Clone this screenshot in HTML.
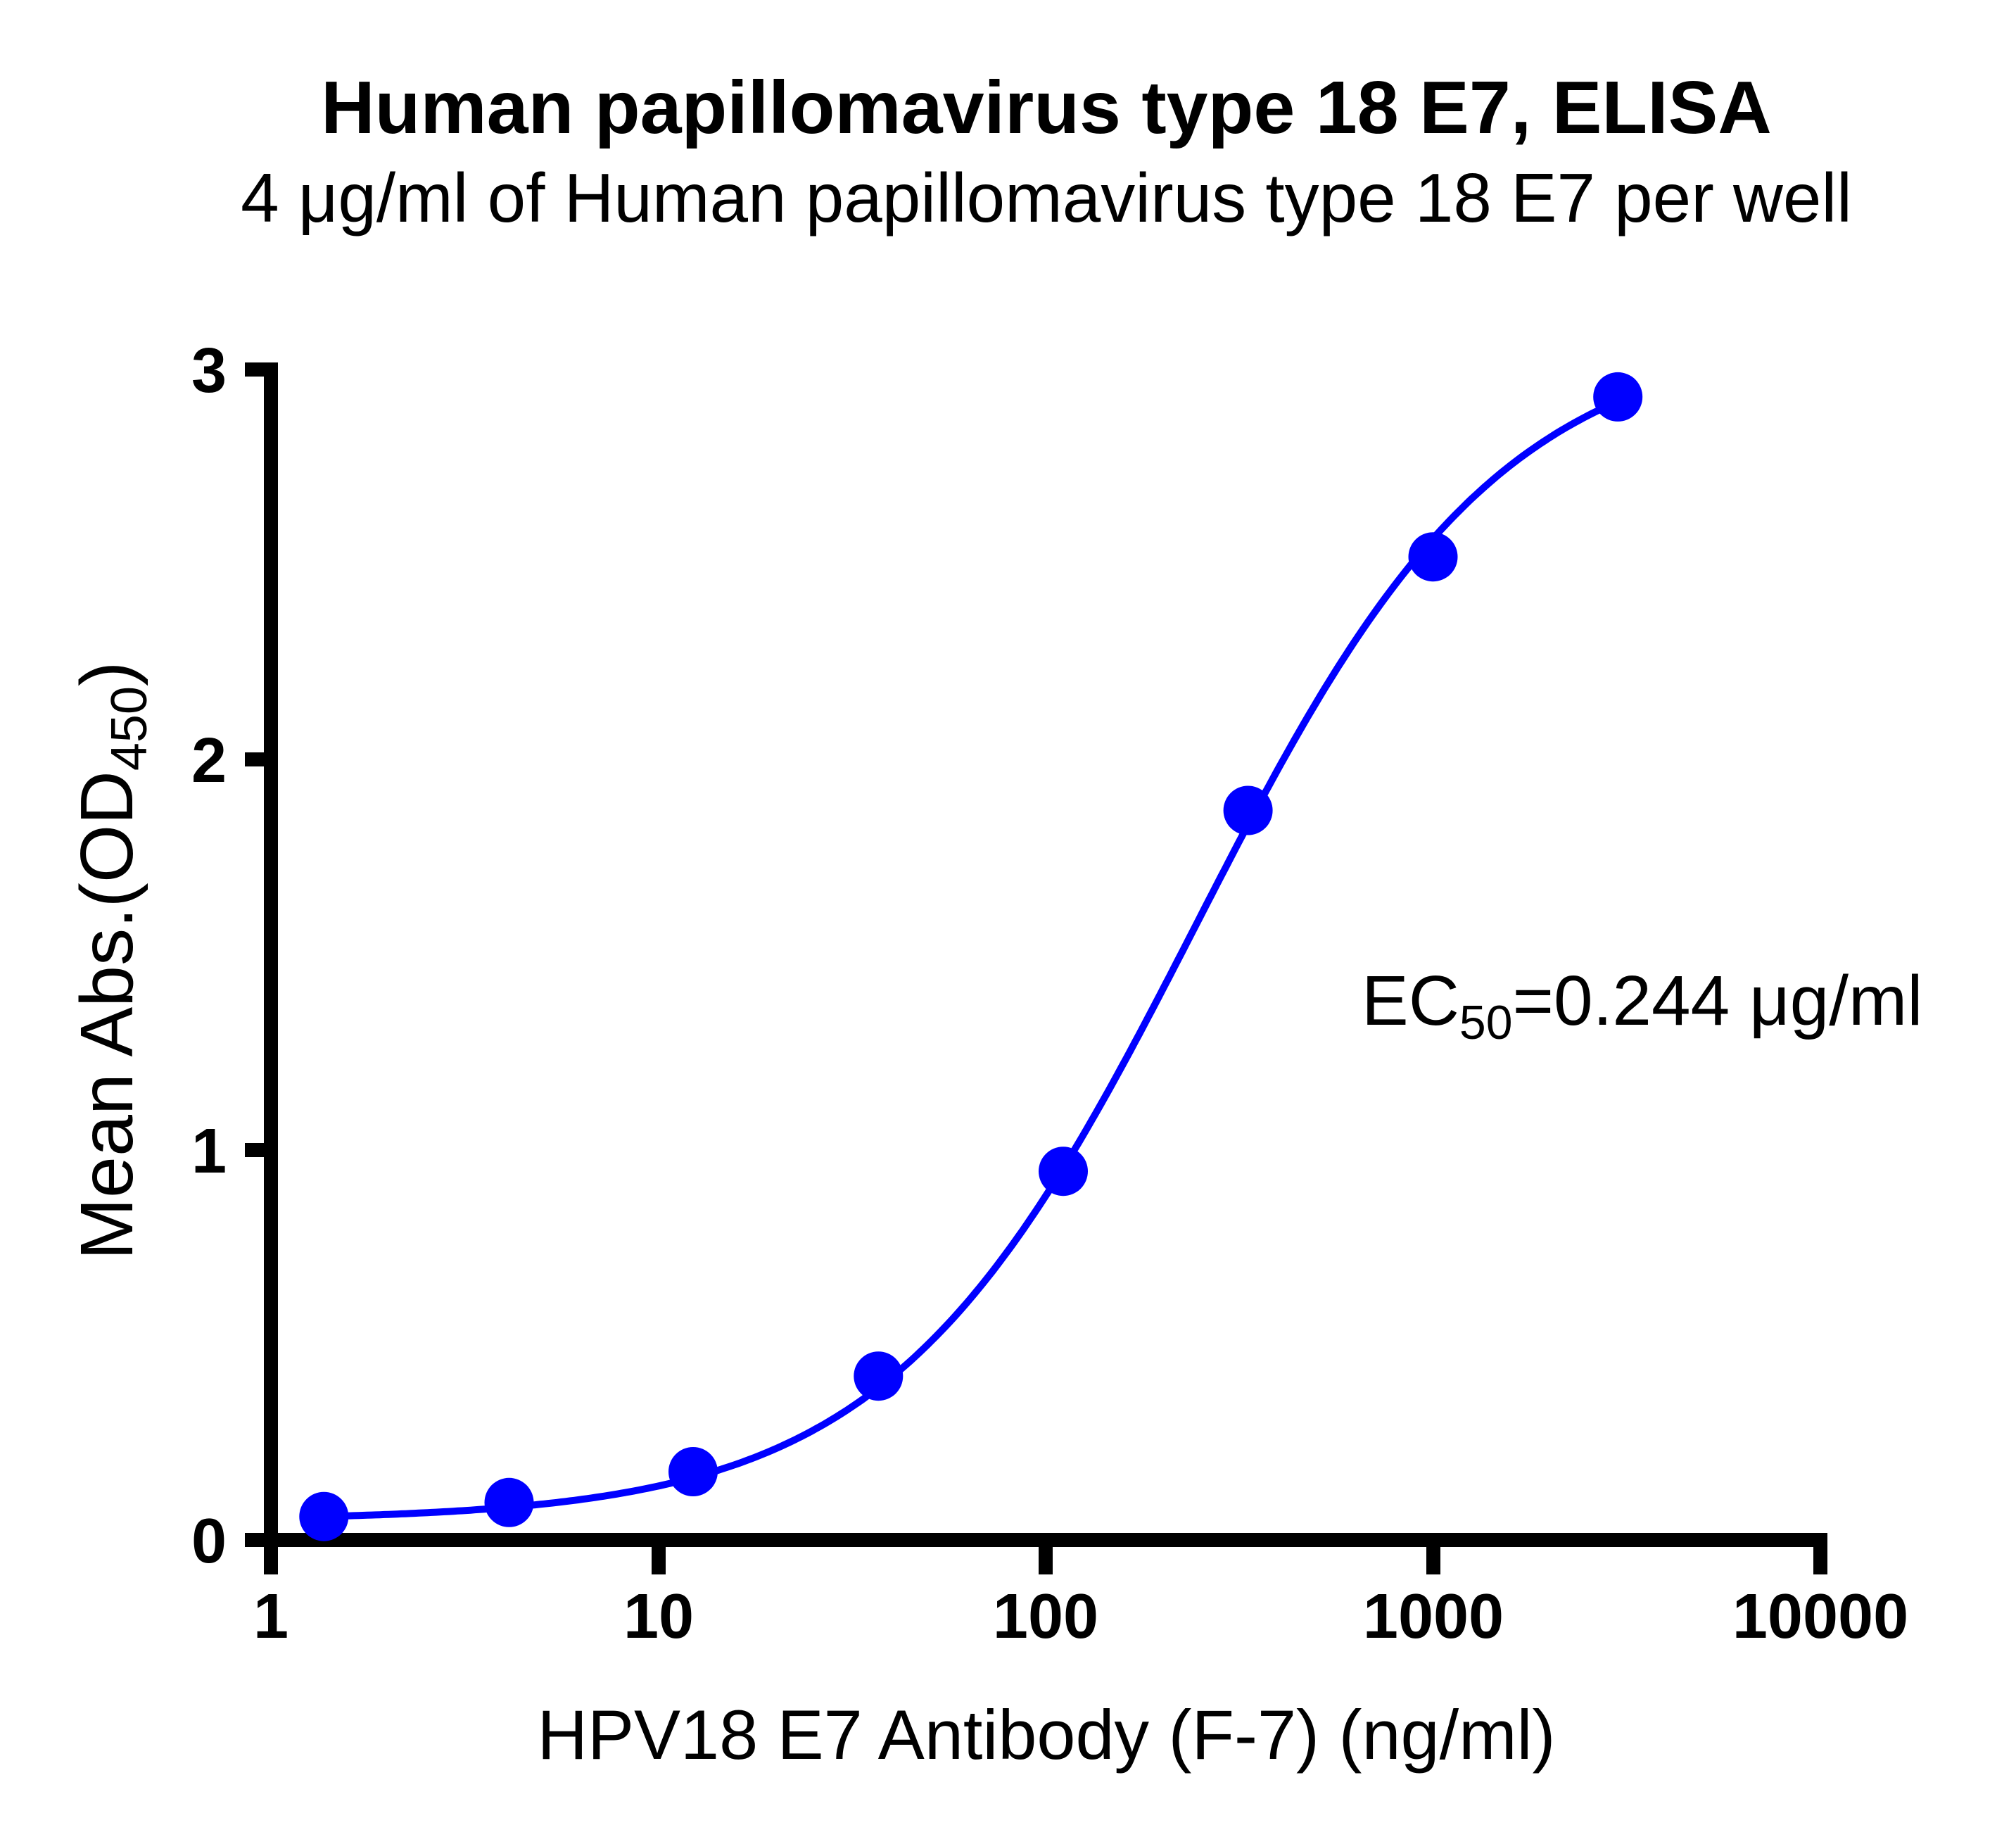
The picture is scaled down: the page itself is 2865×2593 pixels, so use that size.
<!DOCTYPE html>
<html><head><meta charset="utf-8"><style>
html,body{margin:0;padding:0;background:#fff;}
svg{display:block;}
text{font-family:"Liberation Sans",Arial,sans-serif;fill:#000;}
</style></head><body>
<svg id="s" width="2865" height="2593" viewBox="0 0 2865 2593" xmlns="http://www.w3.org/2000/svg">
<text x="1487" y="189" font-size="106" font-weight="bold" text-anchor="middle">Human papillomavirus type 18 E7, ELISA</text>
<text x="1487" y="315" font-size="98" text-anchor="middle">4 μg/ml of Human papillomavirus type 18 E7 per well</text>
<g stroke="#000" stroke-width="20" fill="none">
<line x1="385" y1="515" x2="385" y2="2198"/>
<line x1="375" y1="2188" x2="2597" y2="2188"/>
<line x1="348" y1="525" x2="385" y2="525"/>
<line x1="348" y1="1079" x2="385" y2="1079"/>
<line x1="348" y1="1634" x2="385" y2="1634"/>
<line x1="348" y1="2188" x2="385" y2="2188"/>
<line x1="385" y1="2188" x2="385" y2="2237"/>
<line x1="936" y1="2188" x2="936" y2="2237"/>
<line x1="1486" y1="2188" x2="1486" y2="2237"/>
<line x1="2037" y1="2188" x2="2037" y2="2237"/>
<line x1="2587" y1="2188" x2="2587" y2="2237"/>
</g>
<g font-size="90" font-weight="bold" text-anchor="end">
<text x="322" y="557">3</text>
<text x="322" y="1111">2</text>
<text x="322" y="1666">1</text>
<text x="322" y="2220">0</text>
</g>
<g font-size="90" font-weight="bold" text-anchor="middle">
<text x="385" y="2327">1</text>
<text x="936" y="2327">10</text>
<text x="1486" y="2327">100</text>
<text x="2037" y="2327">1000</text>
<text x="2587" y="2327">10000</text>
</g>
<text x="1487" y="2499" font-size="99" text-anchor="middle">HPV18 E7 Antibody (F-7) (ng/ml)</text>
<text transform="translate(188,1365) rotate(-90)" font-size="106" text-anchor="middle">Mean Abs.(OD<tspan font-size="72" dy="20">450</tspan><tspan dy="-20">)</tspan></text>
<text x="1935" y="1456" font-size="100">EC<tspan font-size="68" dy="20">50</tspan><tspan dy="-20">=0.244 μg/ml</tspan></text>
<path id="c" stroke="#0000ff" stroke-width="10" fill="none" d=""/>
<g id="p" fill="#0000ff"></g>
</svg>
<script>
var X0=385,DX=550.5,Y0=2188,DY=554.3;
function px(c){return X0+Math.log10(c)*DX;}
function py(v){return Y0-v*DY;}
function f(c){return 0.05+3.05/(1+Math.pow(244/c,1.1));}
var d="";
for(var i=0;i<=300;i++){var l=Math.log10(1.37)+(Math.log10(3000)-Math.log10(1.37))*i/300;var c=Math.pow(10,l);d+=(i?"L":"M")+px(c).toFixed(1)+","+py(f(c)).toFixed(1);}
document.getElementById("c").setAttribute("d",d);
var pts=[[1.37,0.06],[4.12,0.096],[12.3,0.175],[37,0.42],[111,0.945],[333,1.87],[1000,2.52],[3000,2.93]];
var g=document.getElementById("p"),h="";
pts.forEach(function(q){h+='<circle cx="'+px(q[0]).toFixed(1)+'" cy="'+py(q[1]).toFixed(1)+'" r="35"/>';});
g.innerHTML=h;
</script>
</body></html>
